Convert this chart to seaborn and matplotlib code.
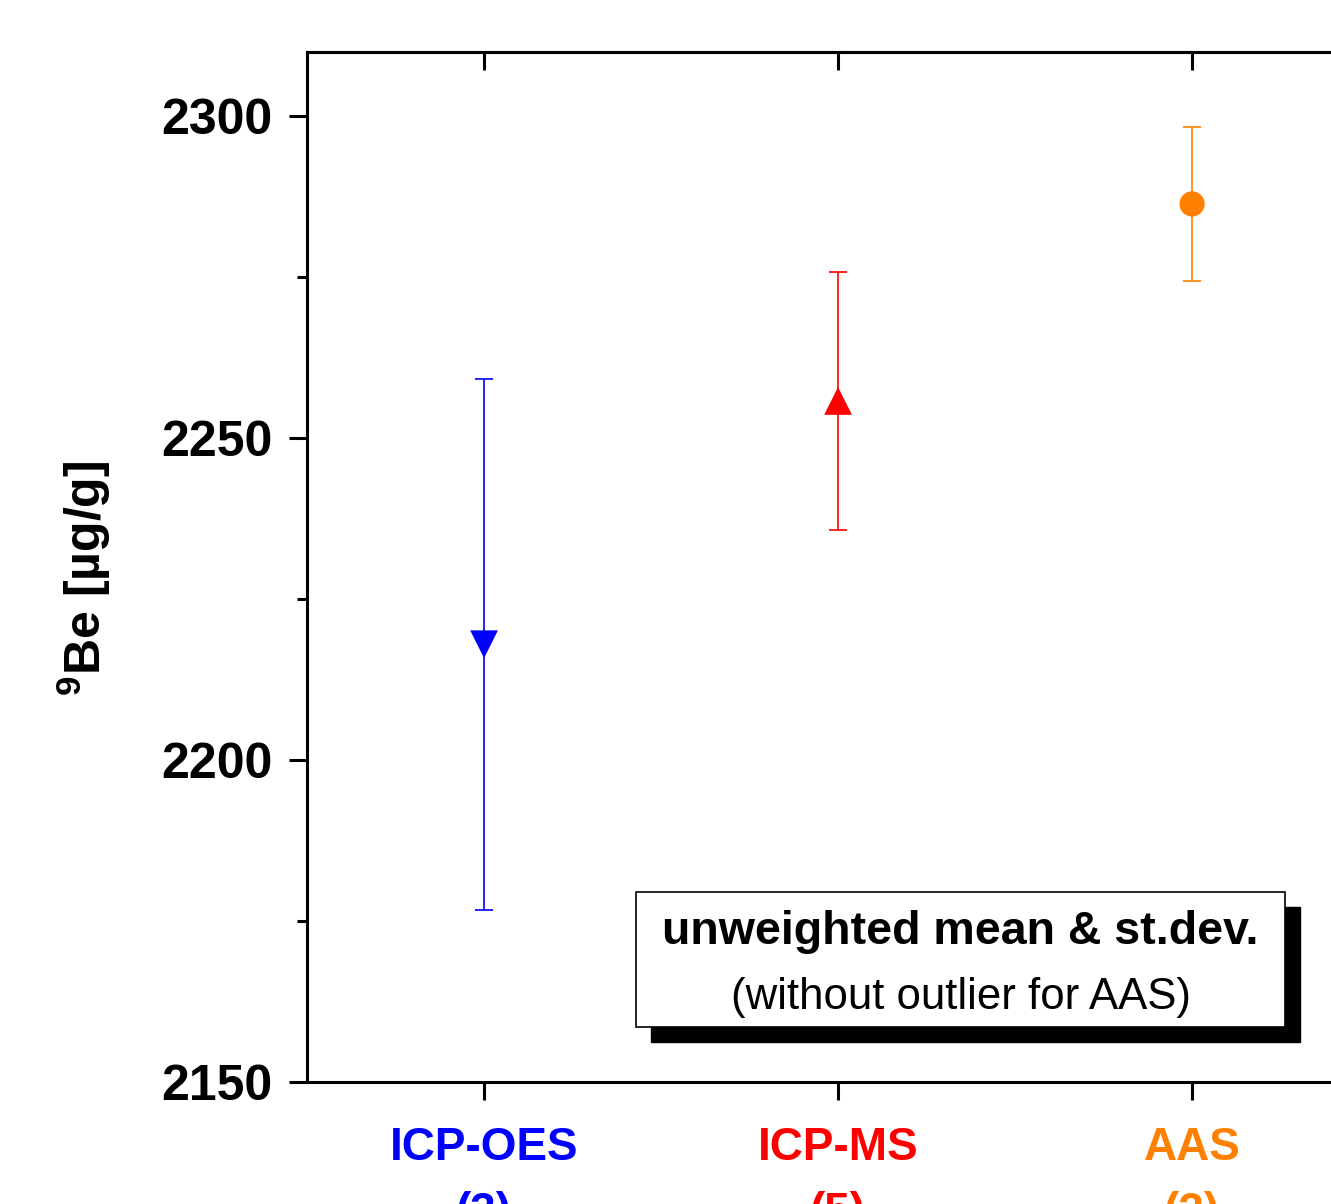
import numpy as np
import pandas as pd
import matplotlib
matplotlib.use('Agg')
import matplotlib.pyplot as plt
from matplotlib.patches import Rectangle
import seaborn as sns

# data
methods = ['ICP-OES', 'ICP-MS', 'AAS']
counts = [3, 5, 2]
means = [2218.0, 2255.8, 2286.4]
sds = [41.2, 20.0, 12.0]
colors = ['#0000FF', '#FF0000', '#FF8000']
markers = ['v', '^', 'o']
sizes = [400, 400, 330]

df = pd.DataFrame({'method': methods, 'mean': means, 'sd': sds})

sns.set_style('white')
plt.rcParams['font.family'] = ['Liberation Sans', 'DejaVu Sans']
plt.rcParams['mathtext.fontset'] = 'custom'
plt.rcParams['mathtext.rm'] = 'Liberation Sans'
plt.rcParams['mathtext.bf'] = 'Liberation Sans:bold'
plt.rcParams['text.color'] = 'black'
plt.rcParams['axes.labelcolor'] = 'black'
plt.rcParams['xtick.color'] = 'black'
plt.rcParams['ytick.color'] = 'black'

fig = plt.figure(figsize=(13.31, 12.04), dpi=100)
# axes runs past the right edge of the figure, like the cropped original
ax = fig.add_axes([0.2307, 0.1013, 0.7979, 0.8555])

for i, m in enumerate(methods):
    ax.errorbar(i, means[i], yerr=sds[i], fmt='none', ecolor=colors[i],
                elinewidth=1.2, capsize=6.5, capthick=1.2, zorder=2)

sns.scatterplot(data=df, x='method', y='mean', hue='method', style='method',
                palette=dict(zip(methods, colors)),
                markers=dict(zip(methods, markers)),
                size='method', sizes=dict(zip(methods, sizes)),
                linewidth=0, legend=False, ax=ax, zorder=3)

ax.set_xlim(-0.5, 2.5)
ax.set_ylim(2150, 2310)
ax.set_yticks([2150, 2200, 2250, 2300])
ax.set_yticks([2175, 2225, 2275], minor=True)
ax.set_xticks(range(len(methods)))
ax.set_xticklabels([f'{m}\n({n})' for m, n in zip(methods, counts)],
                   fontsize=33, fontweight='bold', linespacing=1.6)
for lbl, c in zip(ax.get_xticklabels(), colors):
    lbl.set_color(c)
for lbl in ax.get_yticklabels():
    lbl.set_fontsize(36)
    lbl.set_fontweight('bold')

ax.set_xlabel('')
ax.set_ylabel(r'$^{\mathbf{9}}$Be [µg/g]', fontsize=36, fontweight='bold')
ax.yaxis.set_label_coords(-0.183, 0.489)

for s in ax.spines.values():
    s.set_visible(True)
    s.set_linewidth(2.2)
    s.set_color('black')

ax.tick_params(axis='x', which='major', direction='out', length=13, width=2.2,
               pad=19, bottom=True, top=False)
ax.tick_params(axis='y', which='major', direction='out', length=13, width=2.2,
               pad=12, left=True, right=False)
ax.tick_params(axis='y', which='minor', direction='out', length=7, width=2.2,
               left=True, right=False)

top = ax.secondary_xaxis('top')
top.set_xticks(range(len(methods)))
top.set_xticklabels([])
top.tick_params(direction='in', length=13, width=2.2)
top.spines['top'].set_linewidth(2.2)

# note box with shadow
bx, by, bw, bh = 0.3098, 0.0534, 0.6111, 0.1311
ax.add_patch(Rectangle((bx + 0.0141, by - 0.0146), bw, bh, transform=ax.transAxes,
                       facecolor='black', edgecolor='black', zorder=4))
ax.add_patch(Rectangle((bx, by), bw, bh, transform=ax.transAxes,
                       facecolor='white', edgecolor='black', linewidth=1.2, zorder=5))
ax.text(bx + bw / 2, 0.1456, 'unweighted mean & st.dev.', transform=ax.transAxes,
        ha='center', va='center', fontsize=33.5, fontweight='bold', zorder=6)
ax.text(bx + bw / 2, 0.0816, '(without outlier for AAS)', transform=ax.transAxes,
        ha='center', va='center', fontsize=31.5, zorder=6)

fig.savefig('out.png', dpi=100)
